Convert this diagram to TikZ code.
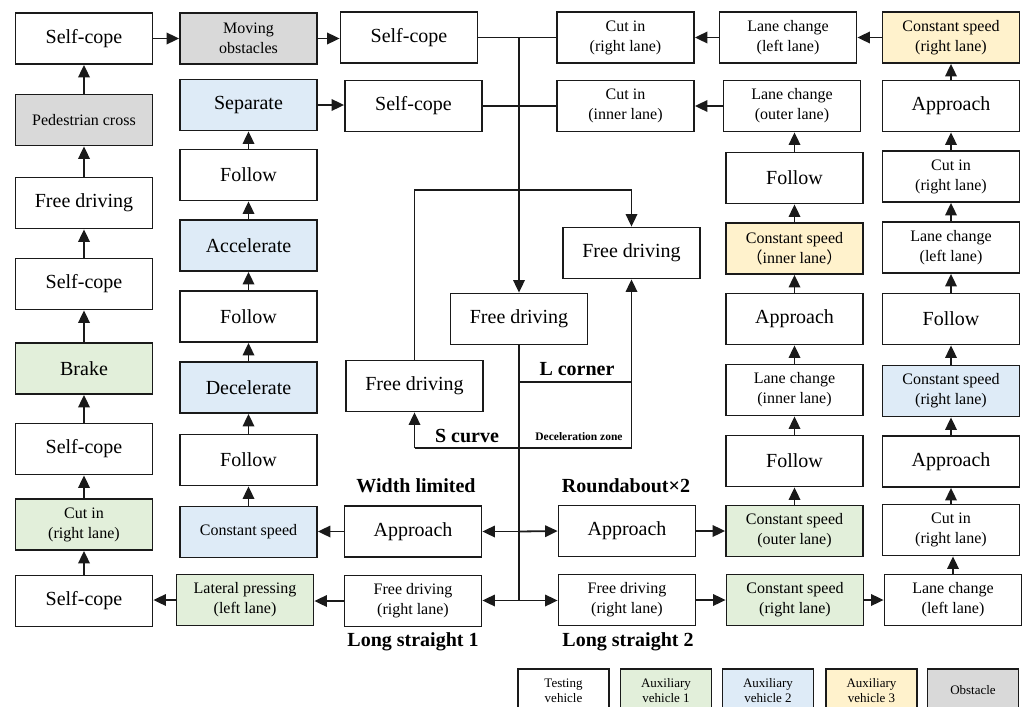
\documentclass[tikz,border=0pt]{standalone}
\usepackage{fontspec}
\setmainfont{Liberation Serif}
\newfontfamily\cjk{Noto Sans CJK SC}
\usetikzlibrary{arrows.meta}
\definecolor{cgreen}{HTML}{E2EFDA}
\definecolor{cblue}{HTML}{DEEBF7}
\definecolor{cyellow}{HTML}{FFF2CC}
\definecolor{cgrey}{HTML}{D9D9D9}
\definecolor{cline}{HTML}{1A1A1A}
\begin{document}
\begin{tikzpicture}[x=1pt,y=-1pt,
  box/.style={draw=cline, line width=1.8pt, minimum width=137pt, minimum height=51pt, inner sep=0pt, align=center, font=\fontsize{20}{24}\selectfont},
  sm/.style={font=\fontsize{16}{20}\selectfont},
  gr/.style={fill=cgreen}, bl/.style={fill=cblue}, ye/.style={fill=cyellow}, gy/.style={fill=cgrey},
  arr/.style={draw=cline, line width=1.8pt, -{Triangle[length=12.5pt,width=11.5pt]}},
  ln/.style={draw=cline, line width=1.8pt},
  lbl/.style={font=\fontsize{20}{24}\selectfont\bfseries, inner sep=0pt},
  leg/.style={draw=cline, line width=1.5pt, minimum width=91pt, minimum height=43pt, inner sep=0pt, align=center, font=\fontsize{13}{15}\selectfont},
]
\useasboundingbox (0,0) rectangle (1026,707);
\clip (0,0) rectangle (1026,707);
\fill[white] (0,0) rectangle (1026,707);

% column 1
\node[box] (c1a) at (84,38.5) {Self-cope};
\node[box,sm,gy] (c1b) at (84,120) {Pedestrian cross};
\node[box] (c1c) at (84,203) {Free driving};
\node[box] (c1d) at (84,284) {Self-cope};
\node[box,gr] (c1e) at (84,368.5) {Brake};
\node[box] (c1f) at (84,449) {Self-cope};
\node[box,sm,gr] (c1g) at (84,524.5) {Cut in\\(right lane)};
\node[box] (c1h) at (84,601) {Self-cope};

% column 2
\node[box,sm,gy] (c2a) at (248.5,38.5) {Moving\\obstacles};
\node[box,bl] (c2b) at (248.5,105) {Separate};
\node[box] (c2c) at (248.5,175) {Follow};
\node[box,bl] (c2d) at (248.5,245.5) {Accelerate};
\node[box] (c2e) at (248.5,316.5) {Follow};
\node[box,bl] (c2f) at (248.5,387.5) {Decelerate};
\node[box] (c2g) at (248.5,460) {Follow};
\node[box,sm,bl] (c2h) at (248.5,532) {Constant speed};
\node[box,sm,gr] (c2i) at (245,600) {Lateral pressing\\(left lane)};

% centre
\node[box] (sc3) at (409,37.5) {Self-cope};
\node[box] (sc4) at (413.5,106) {Self-cope};
\node[box] (fdC) at (519,319) {Free driving};
\node[box] (fdS) at (414.5,386) {Free driving};
\node[box] (apL) at (413,531.5) {Approach};
\node[box,sm] (frL) at (413,601) {Free driving\\(right lane)};
\node[box,sm] (cutR) at (625.5,37.5) {Cut in\\(right lane)};
\node[box,sm] (cutI) at (625.5,106) {Cut in\\(inner lane)};
\node[box] (fdU) at (631.5,253) {Free driving};
\node[box] (apR) at (627,531) {Approach};
\node[box,sm] (frR) at (627,600) {Free driving\\(right lane)};

% column 4
\node[box,sm] (c4a) at (788,37.5) {Lane change\\(left lane)};
\node[box,sm] (c4b) at (792,106) {Lane change\\(outer lane)};
\node[box] (c4c) at (794.5,178) {Follow};
\node[box,sm,ye] (c4d) at (794.5,248.5) {Constant speed\\{\cjk （}inner lane{\cjk ）}};
\node[box] (c4e) at (794.5,319) {Approach};
\node[box,sm] (c4f) at (794.5,390) {Lane change\\(inner lane)};
\node[box] (c4g) at (794.5,461) {Follow};
\node[box,sm,gr] (c4h) at (794.5,531) {Constant speed\\(outer lane)};
\node[box,sm,gr] (c4i) at (795,600) {Constant speed\\(right lane)};

% column 5
\node[box,sm,ye] (c5a) at (951,37.5) {Constant speed\\(right lane)};
\node[box] (c5b) at (951,106) {Approach};
\node[box,sm] (c5c) at (951,176.5) {Cut in\\(right lane)};
\node[box,sm] (c5d) at (951,247.5) {Lane change\\(left lane)};
\node[box] (c5e) at (951,319) {Follow};
\node[box,sm,bl] (c5f) at (951,391) {Constant speed\\(right lane)};
\node[box] (c5g) at (951,461.5) {Approach};
\node[box,sm] (c5h) at (951,530) {Cut in\\(right lane)};
\node[box,sm] (c5i) at (953,600) {Lane change\\(left lane)};

% vertical arrows
\foreach \a/\b in {c1h/c1g,c1g/c1f,c1f/c1e,c1e/c1d,c1d/c1c,c1c/c1b,c1b/c1a,
  c2h/c2g,c2g/c2f,c2f/c2e,c2e/c2d,c2d/c2c,c2c/c2b,
  c4h/c4g,c4g/c4f,c4f/c4e,c4e/c4d,c4d/c4c,c4c/c4b,
  c5i/c5h,c5h/c5g,c5g/c5f,c5f/c5e,c5e/c5d,c5d/c5c,c5c/c5b,c5b/c5a}
  \draw[arr] (\a.north) -- (\a.north |- \b.south);

% horizontal arrows
\draw[arr] (c1a.east) -- (c1a.east -| c2a.west);
\draw[arr] (c2a.east) -- (c2a.east -| sc3.west);
\draw[arr] (c2b.east) -- (c2b.east -| sc4.west);
\draw[arr] (c2i.west) -- (c2i.west -| c1h.east);
\draw[arr] (frL.west) -- (frL.west -| c2i.east);
\draw[arr] (apL.west) -- (apL.west -| c2h.east);
\draw[arr] (frR.east) -- (frR.east -| c4i.west);
\draw[arr] (c4i.east) -- (c4i.east -| c5i.west);
\draw[arr] (apR.east) -- (apR.east -| c4h.west);
\draw[arr] (c4b.west) -- (c4b.west -| cutI.east);
\draw[arr] (c5a.west) -- (c5a.west -| c4a.east);
\draw[arr] (c4a.west) -- (c4a.west -| cutR.east);

% centre network
\coordinate (top) at (519,37.5);
\coordinate (brL) at (414.5,190);
\coordinate (brR) at (631.5,190);
\coordinate (lc) at (519,382);
\coordinate (lcR) at (631.5,382);
\coordinate (dzR) at (631.5,448);
\coordinate (dzL) at (414.5,448);
\coordinate (mA) at (519,531.5);
\coordinate (mB) at (519,600.5);
\draw[ln] (sc3.east) -- (cutR.west);
\draw[ln] (sc4.east) -- (cutI.west);
\draw[arr] (top) -- (fdC.north);
\draw[ln] (fdS.north) -- (brL) -- (brR);
\draw[arr] (brR) -- (fdU.north);
\draw[ln] (fdC.south) -- (mB);
\draw[arr] (lc) -- (lcR) -- (fdU.south);
\draw[ln] (lcR) -- (dzR) -- (dzL);
\draw[arr] (dzL) -- (fdS.south);
\draw[arr] (mA) -- (apL.east);
\draw[arr] (mA) -- (apR.west);
\draw[arr] (mB) -- (frL.east |- mB);
\draw[arr] (mB) -- (frR.west |- mB);

% labels
\node[lbl] (lL) at (577,369) {L corner};
\node[lbl] (lS) at (467,436) {S curve};
\node[lbl,font=\fontsize{11.5}{13}\selectfont\bfseries] (lD) at (579,437) {Deceleration zone};
\node[lbl] (lW) at (416,486) {Width limited};
\node[lbl] (lR) at (626,486) {Roundabout×2};
\node[lbl] (l1) at (413,642) {Long straight 1};
\node[lbl] (l2) at (628,642) {Long straight 2};

% legend
\node[leg] (g1) at (563.5,690.5) {Testing\\vehicle};
\node[leg,gr] (g2) at (666,690.5) {Auxiliary\\vehicle 1};
\node[leg,bl] (g3) at (768,690.5) {Auxiliary\\vehicle 2};
\node[leg,ye] (g4) at (871.5,690.5) {Auxiliary\\vehicle 3};
\node[leg,gy] (g5) at (973,690.5) {Obstacle};
\end{tikzpicture}
\end{document}
